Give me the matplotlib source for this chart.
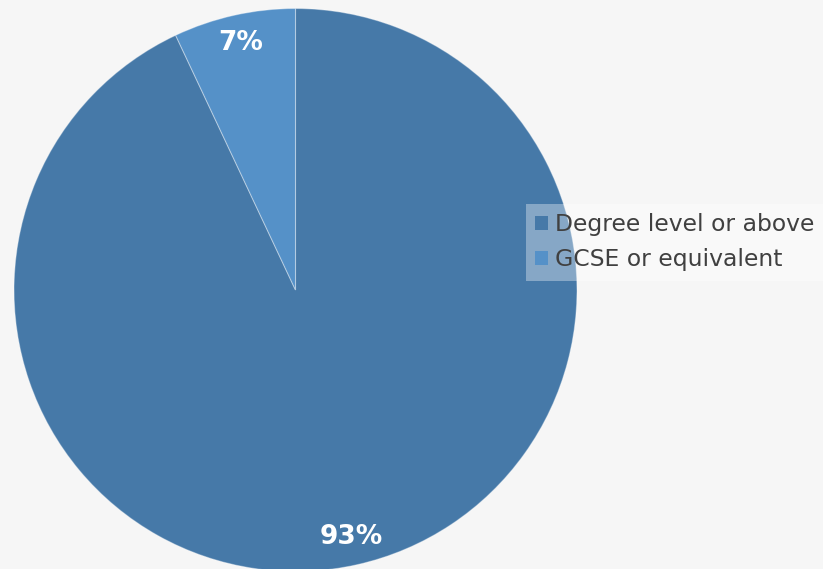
import matplotlib.pyplot as plt

labels = ['Degree level or above', 'GCSE or equivalent']
shares = [93, 7]
colors = ['#4679a8', '#5591c8']

W, H = 823, 569
fig = plt.figure(figsize=(W / 100, H / 100), dpi=100)
fig.patch.set_facecolor('#f6f6f6')
ax = fig.add_axes([0, 0, 1, 1])
ax.set_facecolor('#f6f6f6')

wedges, texts, autotexts = ax.pie(
    shares, colors=colors, startangle=90, counterclock=False,
    center=(295.5, H - 290), radius=281.5,
    autopct='%d%%', pctdistance=0.9,
    wedgeprops=dict(edgecolor=(1, 1, 1, 0.35), linewidth=0.8),
    textprops=dict(color='white', fontsize=19, fontweight='bold'),
)

ax.set_xlim(0, W)
ax.set_ylim(0, H)
ax.set_aspect('equal')
ax.axis('off')

leg = ax.legend(wedges, labels, loc='upper left',
                bbox_to_anchor=(526 / W, 1 - 204 / H),
                bbox_transform=fig.transFigure,
                fontsize=16.9, frameon=True, fancybox=False, framealpha=0.35,
                borderaxespad=0, borderpad=0.4,
                handlelength=0.55, handleheight=0.55, handletextpad=0.3,
                labelspacing=0.5, labelcolor='#404040')
leg.get_frame().set_facecolor('white')
leg.get_frame().set_edgecolor('none')
for h in leg.legend_handles:
    h.set_edgecolor('none')

plt.savefig('out.png', dpi=100, facecolor=fig.get_facecolor())
